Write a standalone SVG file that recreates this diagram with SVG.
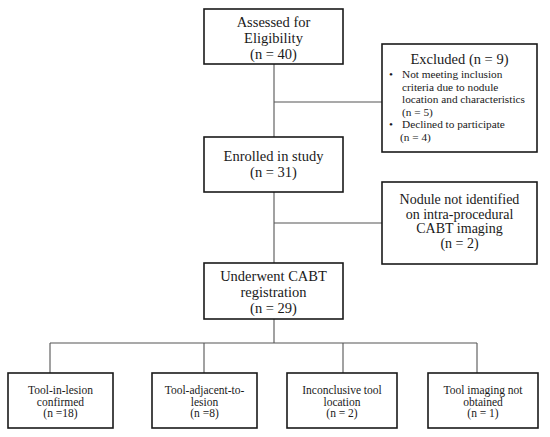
<svg xmlns="http://www.w3.org/2000/svg" width="550" height="437" viewBox="0 0 550 437">
<style>
.box{fill:#fff;stroke:#1a1a1a;stroke-width:1.6}
.con{fill:none;stroke:#555;stroke-width:1.1}
.t{font-family:"Liberation Serif","Times New Roman",serif;font-size:14.5px;fill:#1a1a1a;text-anchor:middle}
.n{font-family:"Liberation Serif","Times New Roman",serif;font-size:14px;fill:#1a1a1a;text-anchor:middle}
.s{font-family:"Liberation Serif","Times New Roman",serif;font-size:11.3px;fill:#1a1a1a}
.sm{font-family:"Liberation Serif","Times New Roman",serif;font-size:11.5px;fill:#1a1a1a;text-anchor:middle}
</style>
<rect width="550" height="437" fill="#fff"/>
<g id="connectors">
<path class="con" d="M274 64V137M274 102H382M274 192V263M274 223H382M274 319V343M50 343H477M50 343V373M204 343V373M343 343V373M477 343V373"/>
</g>
<g id="assessed">
<rect class="box" x="204" y="9" width="139" height="55"/>
<text class="t" x="273.5" y="27">Assessed for</text>
<text class="t" x="273.5" y="43">Eligibility</text>
<text class="t" x="273.5" y="59">(n = 40)</text>
</g>
<g id="excluded">
<rect class="box" x="382" y="44" width="155" height="108"/>
<text class="t" x="459.5" y="64">Excluded (n = 9)</text>
<text class="s" x="389" y="78">•</text>
<text class="s" x="402" y="78">Not meeting inclusion</text>
<text class="s" x="402" y="90.6">criteria due to nodule</text>
<text class="s" x="402" y="103.2">location and characteristics</text>
<text class="s" x="402" y="115.8">(n = 5)</text>
<text class="s" x="389" y="128.4">•</text>
<text class="s" x="402" y="128.4">Declined to participate</text>
<text class="s" x="400" y="141">(n = 4)</text>
</g>
<g id="enrolled">
<rect class="box" x="204" y="137" width="139" height="55"/>
<text class="t" x="273.5" y="161">Enrolled in study</text>
<text class="t" x="273.5" y="177">(n = 31)</text>
</g>
<g id="nodule">
<rect class="box" x="382" y="182" width="155" height="82"/>
<text class="n" x="459.5" y="204">Nodule not identified</text>
<text class="n" x="459.5" y="218.5">on intra-procedural</text>
<text class="n" x="459.5" y="233">CABT imaging</text>
<text class="n" x="459.5" y="247.5">(n = 2)</text>
</g>
<g id="underwent">
<rect class="box" x="204" y="263" width="139" height="56"/>
<text class="t" x="273.5" y="281">Underwent CABT</text>
<text class="t" x="273.5" y="297">registration</text>
<text class="t" x="273.5" y="313">(n = 29)</text>
</g>
<g id="tool-in-lesion">
<rect class="box" x="8" y="373" width="105" height="55"/>
<text class="sm" x="60.5" y="394">Tool-in-lesion</text>
<text class="sm" x="60.5" y="405.5">confirmed</text>
<text class="sm" x="60.5" y="417">(n =18)</text>
</g>
<g id="tool-adjacent">
<rect class="box" x="152" y="373" width="105" height="55"/>
<text class="sm" x="204.5" y="394">Tool-adjacent-to-</text>
<text class="sm" x="204.5" y="405.5">lesion</text>
<text class="sm" x="204.5" y="417">(n =8)</text>
</g>
<g id="inconclusive">
<rect class="box" x="287" y="373" width="110" height="55"/>
<text class="sm" x="342" y="394">Inconclusive tool</text>
<text class="sm" x="342" y="405.5">location</text>
<text class="sm" x="342" y="417">(n = 2)</text>
</g>
<g id="not-obtained">
<rect class="box" x="428" y="373" width="110" height="55"/>
<text class="sm" x="483" y="394">Tool imaging not</text>
<text class="sm" x="483" y="405.5">obtained</text>
<text class="sm" x="483" y="417">(n = 1)</text>
</g>
</svg>
